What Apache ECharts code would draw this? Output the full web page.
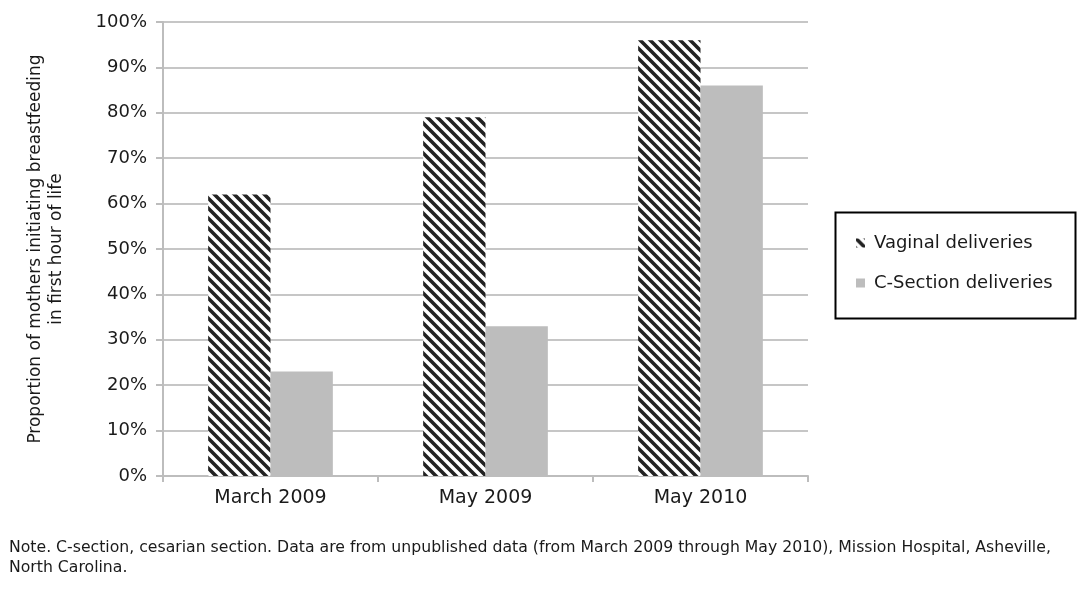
<!DOCTYPE html>
<html>
<head>
<meta charset="utf-8">
<script src="https://cdn.jsdelivr.net/npm/echarts@6/dist/echarts.min.js"></script>
<style>
  html, body { margin: 0; padding: 0; background: #fff; }
  #chart { width: 1088px; height: 595px; }
</style>
</head>
<body>
<div id="chart"></div>
<script>
// Survey periods and share of mothers initiating breastfeeding in the first hour (%)
const categories = ['March 2009', 'May 2009', 'May 2010'];
const vaginal = [62, 79, 96];
const cSection = [23, 33, 86];
const yTicks = [0, 10, 20, 30, 40, 50, 60, 70, 80, 90, 100];

const FONT = '"DejaVu Sans", "Open Sans", sans-serif';

// Diagonal hatch ("\\\") used for vaginal deliveries
function hatchPattern() {
  const s = 10;
  const c = document.createElement('canvas');
  c.width = s; c.height = s;
  const g = c.getContext('2d');
  g.fillStyle = '#ffffff';
  g.fillRect(0, 0, s, s);
  g.strokeStyle = '#222222';
  g.lineWidth = 3.6;
  g.beginPath();
  g.moveTo(-2, -2); g.lineTo(s + 2, s + 2);
  g.moveTo(-s - 2, -2); g.lineTo(2, s + 2);
  g.moveTo(s - 2, -2); g.lineTo(2 * s + 2, s + 2);
  g.stroke();
  return { image: c, repeat: 'repeat' };
}

const chart = echarts.init(document.getElementById('chart'), null, { renderer: 'canvas' });

chart.setOption({
  animation: false,
  backgroundColor: '#ffffff',
  textStyle: { fontFamily: FONT },
  grid: { left: 163, right: 280, top: 22, bottom: 119 },
  xAxis: {
    type: 'category',
    data: categories,
    axisLine: { lineStyle: { color: '#bdbdbd', width: 2 } },
    axisTick: { show: true, length: 6, lineStyle: { color: '#bdbdbd', width: 2 } },
    axisLabel: { color: '#1a1a1a', fontSize: 19, margin: 13, fontFamily: FONT }
  },
  yAxis: {
    type: 'value',
    min: 0,
    max: 100,
    interval: 10,
    name: 'Proportion of mothers initiating breastfeeding\nin first hour of life',
    nameLocation: 'middle',
    nameGap: 96,
    nameRotate: 90,
    nameTextStyle: { color: '#1a1a1a', fontSize: 17, lineHeight: 21, fontFamily: FONT },
    axisLine: { show: true, lineStyle: { color: '#bdbdbd', width: 2 } },
    axisTick: { show: true, length: 7, lineStyle: { color: '#bdbdbd', width: 2 } },
    axisLabel: {
      color: '#1a1a1a', fontSize: 18, margin: 16, fontFamily: FONT,
      formatter: v => yTicks.includes(v) ? v + '%' : ''
    },
    splitLine: { lineStyle: { color: '#c6c6c6', width: 2 } }
  },
  legend: {
    orient: 'vertical',
    left: 851,
    top: 229,
    itemWidth: 9,
    itemHeight: 9,
    itemGap: 22,
    textStyle: { color: '#1a1a1a', fontSize: 18, fontFamily: FONT, padding: [0, 0, 0, 4] },
    data: [
      { name: 'Vaginal deliveries', icon: 'rect' },
      { name: 'C-Section deliveries', icon: 'rect' }
    ]
  },
  graphic: [
    {
      type: 'rect',
      left: 833, top: 210,
      shape: { width: 240, height: 106 },
      style: { fill: 'none', stroke: '#000', lineWidth: 2 },
      z: 10
    },
    {
      type: 'text',
      left: 9, top: 538,
      style: {
        text: 'Note. C-section, cesarian section. Data are from unpublished data (from March 2009 through May 2010), Mission Hospital, Asheville,\nNorth Carolina.',
        fill: '#1a1a1a',
        font: '15.7px ' + FONT,
        lineHeight: 20
      }
    }
  ],
  series: [
    {
      name: 'Vaginal deliveries',
      type: 'bar',
      data: vaginal,
      barGap: '0%',
      barCategoryGap: '42%',
      itemStyle: { color: hatchPattern() }
    },
    {
      name: 'C-Section deliveries',
      type: 'bar',
      data: cSection,
      itemStyle: { color: '#bdbdbd' }
    }
  ]
});
</script>
</body>
</html>
